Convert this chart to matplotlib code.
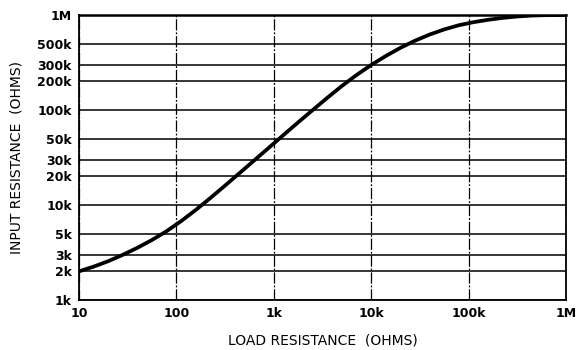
import matplotlib
matplotlib.use("Agg")
import matplotlib.pyplot as plt
import matplotlib.ticker as mticker

# load resistance (ohms) vs input resistance (ohms)
load_ohms = [10, 14.1, 20, 28.2, 39.8, 56.2, 79.4, 112, 158, 224, 316,
             447, 631, 891, 1259, 1778, 2512, 3548, 5012, 7079, 10000,
             14125, 19953, 28184, 39811, 56234, 79433, 112202, 158489,
             223872, 316228, 446684, 630957, 1000000]
input_ohms = [2000, 2239, 2559, 2985, 3540, 4276, 5297, 6761, 8851,
              11858, 15996, 21727, 29512, 40087, 54576, 74131, 100000,
              134586, 179473, 233884, 297852, 370681, 451856, 537032,
              623735, 706318, 781628, 841395, 891251, 933254, 966051,
              988553, 997700, 1000000]

x_ticks = [10, 100, 1000, 10000, 100000, 1000000]
x_labels = ["10", "100", "1k", "10k", "100k", "1M"]
y_ticks = [1000, 2000, 3000, 5000, 10000, 20000, 30000, 50000,
           100000, 200000, 300000, 500000, 1000000]
y_labels = ["1k", "2k", "3k", "5k", "10k", "20k", "30k", "50k",
            "100k", "200k", "300k", "500k", "1M"]

fig = plt.figure(figsize=(5.8, 3.5), dpi=100)
ax = fig.add_axes([0.136, 0.143, 0.840, 0.814])

ax.set_xscale("log")
ax.set_yscale("log")
ax.set_xlim(10, 1e6)
ax.set_ylim(1e3, 1e6)

# grid: solid horizontals at each labelled value, broken verticals per decade
for yv in y_ticks:
    ax.axhline(yv, color="black", lw=1.1, zorder=1)
for xv in x_ticks:
    ax.axvline(xv, color="black", lw=0.9, ls=(0, (9, 1.5, 1.5, 1.5)), zorder=1)

ax.plot(load_ohms, input_ohms, color="black", lw=2.7,
        solid_capstyle="round", solid_joinstyle="round", zorder=3)

ax.xaxis.set_major_locator(mticker.FixedLocator(x_ticks))
ax.xaxis.set_major_formatter(mticker.FixedFormatter(x_labels))
ax.xaxis.set_minor_locator(mticker.NullLocator())
ax.yaxis.set_major_locator(mticker.FixedLocator(y_ticks))
ax.yaxis.set_major_formatter(mticker.FixedFormatter(y_labels))
ax.yaxis.set_minor_locator(mticker.NullLocator())
ax.tick_params(length=0, labelsize=9, pad=5)
for lab in ax.get_xticklabels() + ax.get_yticklabels():
    lab.set_fontweight("bold")

for sp in ax.spines.values():
    sp.set_linewidth(1.3)
ax.spines["top"].set_linewidth(1.8)

ax.set_xlabel("LOAD RESISTANCE  (OHMS)", fontsize=10, labelpad=10)
ax.set_ylabel("INPUT RESISTANCE  (OHMS)", fontsize=10, labelpad=10)

fig.savefig("out.png", dpi=100)
